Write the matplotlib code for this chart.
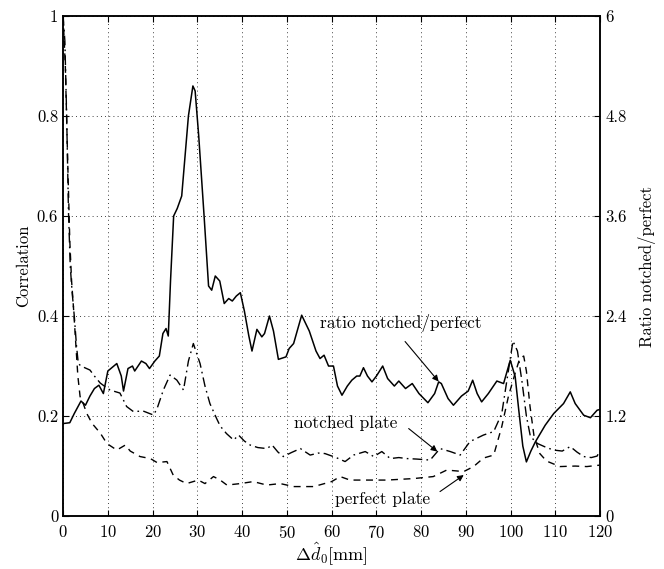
import matplotlib
matplotlib.use("Agg")
import matplotlib.pyplot as plt

plt.rcParams["font.family"] = ["cmr10", "DejaVu Serif"]
plt.rcParams["mathtext.fontset"] = "cm"
plt.rcParams["axes.formatter.use_mathtext"] = True

# ratio notched/perfect (right axis)
x_ratio = [0, 1.5, 2.5, 4, 5, 6, 7, 8, 9, 10, 12, 13, 13.5, 14.5, 15.5, 16, 17.5, 18.5, 19.3, 20.5,
           21.5, 22.3, 23, 23.5, 24, 24.7, 25.5, 26.5, 28, 29, 29.5, 30.3, 31.5, 32.5, 33.2, 34, 35, 36,
           37, 37.8, 38.7, 39.6, 40.5, 41.5, 42.2, 43.3, 44.4, 45, 46.1, 47, 48.1, 49.8, 50.5, 51.5,
           53.3, 55, 56.5, 57.4, 58.3, 59.3, 60.4, 61.3, 62.3, 63.5, 64.5, 65.6, 66.3, 67.1, 68, 69,
           70, 71.4, 72.5, 74, 75, 76.5, 78, 79.5, 81.5, 83, 83.9, 84.5, 86, 87.2, 89, 90.5, 91.5,
           92.5, 93.5, 95, 96.9, 98.4, 99.9, 101, 101.8, 102.7, 103.5, 104.5, 105.5, 107.7, 109.6,
           111.8, 113.3, 114.4, 116.3, 117.8, 119.3, 120]
ratio = [1.11, 1.12, 1.23, 1.38, 1.33, 1.44, 1.53, 1.57, 1.47, 1.74, 1.83, 1.68, 1.50, 1.77, 1.80,
         1.74, 1.86, 1.83, 1.77, 1.86, 1.92, 2.19, 2.25, 2.16, 2.82, 3.60, 3.69, 3.84, 4.80, 5.16,
         5.10, 4.56, 3.60, 2.76, 2.71, 2.88, 2.82, 2.55, 2.61, 2.58, 2.64, 2.68, 2.46, 2.16, 1.98,
         2.24, 2.15, 2.19, 2.40, 2.22, 1.88, 1.91, 2.01, 2.07, 2.41, 2.22, 1.98, 1.89, 1.93, 1.80,
         1.80, 1.56, 1.45, 1.56, 1.63, 1.68, 1.68, 1.78, 1.68, 1.61, 1.68, 1.80, 1.65, 1.56, 1.62,
         1.53, 1.59, 1.47, 1.36, 1.47, 1.61, 1.59, 1.41, 1.33, 1.44, 1.50, 1.63, 1.47, 1.37, 1.47,
         1.62, 1.59, 1.87, 1.67, 1.27, 0.84, 0.65, 0.78, 0.89, 1.09, 1.23, 1.35, 1.49, 1.35, 1.21,
         1.18, 1.27, 1.28]

# notched plate correlation (dash-dot)
x_notch = [0, 0.4, 0.8, 1.2, 1.6, 2, 2.5, 3, 3.4, 4, 5, 6, 7, 8.3, 9.5, 10.5, 12.7, 14.2, 15.7, 17.9,
           20.2, 21, 22.4, 23.9, 25.4, 26.9, 28, 29.1, 30.6, 31.7, 32.8, 34.3, 35.1, 36.5, 38.1,
           39.2, 40.5, 41.8, 43.5, 45.5, 46.7, 48, 49.2, 51, 53, 55.2, 57, 58.5, 61, 63, 64.9, 67.5,
           69.4, 71.2, 73.1, 75, 76.8, 79, 82, 84.2, 86.5, 88.7, 90.9, 93.9, 96.2, 98, 99.5, 100.5,
           101.5, 102.5, 103.5, 104.4, 106, 108, 109.6, 111.5, 113.3, 114.8, 116.3, 118, 119.3, 120]
notched = [1.0, 0.95, 0.80, 0.61, 0.50, 0.45, 0.40, 0.34, 0.305, 0.30, 0.296, 0.292, 0.28, 0.266,
           0.258, 0.252, 0.246, 0.219, 0.209, 0.21, 0.202, 0.215, 0.252, 0.282, 0.272, 0.252, 0.31,
           0.345, 0.305, 0.26, 0.225, 0.195, 0.18, 0.165, 0.152, 0.162, 0.15, 0.142, 0.137, 0.135,
           0.142, 0.128, 0.119, 0.127, 0.135, 0.122, 0.126, 0.125, 0.117, 0.109, 0.122, 0.129,
           0.119, 0.129, 0.115, 0.117, 0.115, 0.114, 0.112, 0.135, 0.129, 0.122, 0.149, 0.162,
           0.169, 0.205, 0.292, 0.35, 0.33, 0.27, 0.20, 0.159, 0.145, 0.137, 0.132, 0.13, 0.139,
           0.128, 0.119, 0.117, 0.12, 0.132]

# perfect plate correlation (dashed)
x_perf = [0, 0.5, 1, 1.5, 1.9, 2.3, 2.8, 3.3, 3.8, 4.5, 5.3, 6.5, 8.3, 9.8, 12, 13.9, 15, 17.2, 19.5,
          21, 23.2, 24.6, 26, 27.6, 30.2, 31.7, 33.6, 35.1, 36.6, 39.6, 42.5, 45.5, 48.5, 51.5, 56,
          60, 61.9, 64.1, 67.9, 72.3, 78.3, 82.7, 85.7, 89.5, 91.7, 93.9, 96.2, 98, 99.5, 100.8,
          102, 102.9, 103.5, 104.3, 105.2, 106.5, 108, 111, 114.4, 117, 120]
perfect = [1.0, 0.9, 0.72, 0.55, 0.47, 0.42, 0.35, 0.28, 0.239, 0.225, 0.205, 0.185, 0.166, 0.145,
           0.132, 0.142, 0.13, 0.119, 0.115, 0.107, 0.109, 0.082, 0.072, 0.065, 0.072, 0.065, 0.079,
           0.072, 0.062, 0.065, 0.069, 0.062, 0.065, 0.059, 0.059, 0.069, 0.079, 0.072, 0.072,
           0.072, 0.075, 0.079, 0.092, 0.089, 0.099, 0.116, 0.122, 0.179, 0.24, 0.28, 0.315, 0.32,
           0.29, 0.22, 0.16, 0.125, 0.11, 0.099, 0.1, 0.099, 0.102]

fig = plt.figure(figsize=(6.64, 5.69), dpi=100)
ax = fig.add_axes([0.095, 0.093, 0.809, 0.879])
ax2 = ax.twinx()

ax.plot(x_notch, notched, color="k", lw=1.0, ls=(0, (7, 3, 1.2, 3)))
ax.plot(x_perf, perfect, color="k", lw=1.0, ls=(0, (5, 4)))
ax2.plot(x_ratio, ratio, color="k", lw=1.1)

ax.set_xlim(0, 120); ax.set_ylim(0, 1)
ax2.set_ylim(0, 6)
ax.set_xticks(range(0, 121, 10))
ax.set_yticks([0, 0.2, 0.4, 0.6, 0.8, 1])
ax.set_yticklabels(["0", "0.2", "0.4", "0.6", "0.8", "1"])
ax2.set_yticks([0, 1.2, 2.4, 3.6, 4.8, 6])
ax2.set_yticklabels(["0", "1.2", "2.4", "3.6", "4.8", "6"])
ax.grid(True, color="k", ls=(0, (1, 4)), lw=0.6)
ax.tick_params(axis="x", direction="in", top=True, labelsize=12, length=4, pad=6)
ax.tick_params(axis="y", direction="in", labelsize=12, length=4)
ax2.tick_params(direction="in", labelsize=12, length=4)
for a in (ax, ax2):
    for s in a.spines.values():
        s.set_linewidth(1.1)

ax.set_xlabel(r"$\Delta\hat{d}_0$[mm]", fontsize=13, labelpad=-1)
ax.set_ylabel("Correlation", fontsize=12, labelpad=4)
ax2.set_ylabel("Ratio notched/perfect", fontsize=12, labelpad=8)

arr = dict(arrowstyle="-|>", color="k", lw=0.8, mutation_scale=9, shrinkA=0, shrinkB=0)
ax.annotate("", xy=(83.9, 0.269), xytext=(76.4, 0.349), arrowprops=arr)
ax.text(57.4, 0.386, "ratio notched/perfect", fontsize=12.5, ha="left", va="center")
ax.annotate("", xy=(83.6, 0.129), xytext=(77.2, 0.175), arrowprops=arr)
ax.text(51.6, 0.186, "notched plate", fontsize=12.5, ha="left", va="center")
ax.annotate("", xy=(89.5, 0.082), xytext=(84.2, 0.049), arrowprops=arr)
ax.text(60.8, 0.034, "perfect plate", fontsize=12.5, ha="left", va="center")

fig.savefig("out.png", dpi=100, facecolor="white")
